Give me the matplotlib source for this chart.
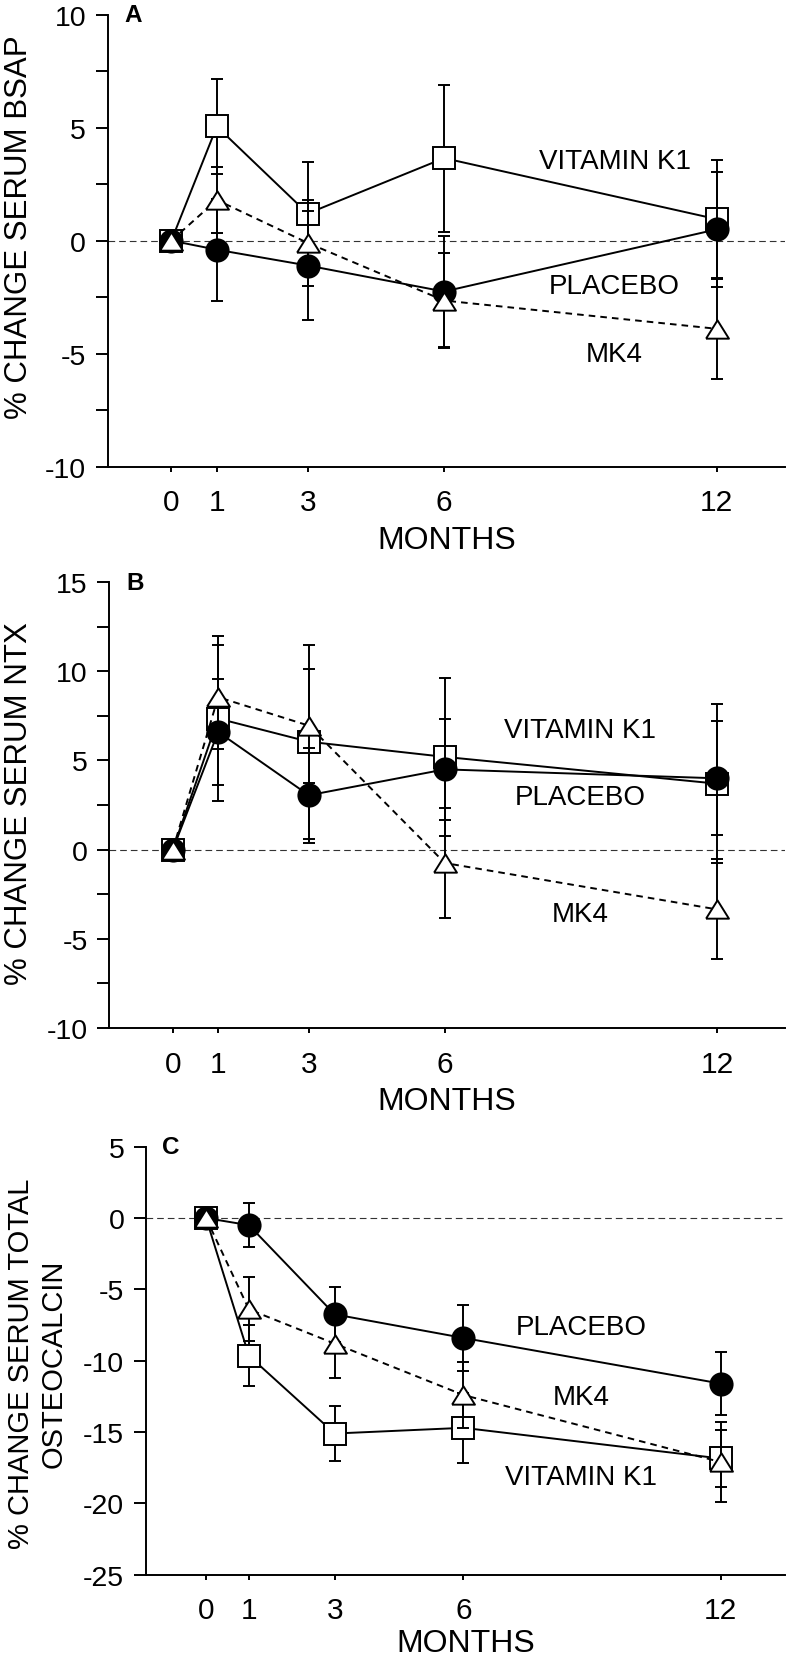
import matplotlib
matplotlib.use('Agg')
import matplotlib.pyplot as plt
import numpy as np

plt.rcParams['font.family'] = ['Liberation Sans', 'DejaVu Sans']

months = [0, 1, 3, 6, 12]
month_labels = ['0', '1', '3', '6', '12']

# A: serum BSAP, % change (mean and SE)
bsap_k1 = [0, 5.05, 1.2, 3.65, 0.95]
bsap_k1_se = [0, 2.1, 2.3, 3.25, 2.6]
bsap_placebo = [0, -0.4, -1.1, -2.25, 0.5]
bsap_placebo_se = [0, 2.25, 2.4, 2.45, 2.55]
bsap_mk4 = [0, 1.8, -0.1, -2.65, -3.9]
bsap_mk4_se = [0, 1.45, 1.9, 2.1, 2.2]

# B: serum NTX
ntx_k1 = [0, 7.35, 6.05, 5.2, 3.7]
ntx_k1_se = [0, 4.65, 5.45, 4.45, 4.45]
ntx_placebo = [0, 6.6, 3.05, 4.5, 4.0]
ntx_placebo_se = [0, 2.95, 2.65, 2.85, 3.2]
ntx_mk4 = [0, 8.55, 6.95, -0.75, -3.35]
ntx_mk4_se = [0, 2.9, 3.2, 3.1, 2.8]

# C: serum total osteocalcin
oc_k1 = [0, -9.65, -15.1, -14.7, -16.85]
oc_k1_se = [0, 2.15, 1.95, 2.45, 2.0]
oc_placebo = [0, -0.5, -6.75, -8.4, -11.6]
oc_placebo_se = [0, 1.55, 1.95, 2.3, 2.2]
oc_mk4 = [0, -6.4, -8.8, -12.4, -17.1]
oc_mk4_se = [0, 2.25, 2.4, 2.3, 2.8]

# flattened open triangle
tri = [(-1, -0.8), (1, -0.8), (0, 0.8), (-1, -0.8)]

LW = 1.4


def panel(ax, k1, k1_se, pl, pl_se, mk, mk_se, ylim, yticks, yminor,
          letter, label_pos, xlabelpad):
    common = dict(color='k', lw=LW, elinewidth=LW, capsize=4.6, capthick=LW,
                  mew=LW, mec='k', clip_on=False)
    ax.axhline(0, color='#333333', lw=0.8, ls=(0, (6.0, 3.6)), zorder=1)
    # vitamin K1 - open squares
    ax.errorbar(months, k1, yerr=k1_se, marker='s', ms=15.5, mfc='white',
                zorder=3, **common)
    # placebo - filled circles
    ax.errorbar(months, pl, yerr=pl_se, marker='o', ms=16, mfc='k',
                zorder=4, **common)
    # MK4 - open triangles, dashed
    ax.errorbar(months, mk, yerr=mk_se, marker=tri, ms=16.5, mfc='white',
                ls=(0, (3.4, 2.6)), zorder=5, **common)

    ax.set_xlim(-1.4, 13.5)
    ax.set_ylim(*ylim)
    ax.set_xticks(months)
    ax.set_xticklabels(month_labels)
    ax.set_yticks(yticks)
    ax.set_yticklabels([str(t) for t in yticks])
    if yminor:
        ax.set_yticks(yminor, minor=True)
    ax.tick_params(axis='y', which='both', direction='out', length=8.6,
                   width=LW, labelsize=20.5, pad=7)
    ax.tick_params(axis='x', direction='out', length=3.6, width=LW,
                   labelsize=21.5, pad=12)
    ax.spines['top'].set_visible(False)
    ax.spines['right'].set_visible(False)
    ax.spines['left'].set_linewidth(LW)
    ax.spines['bottom'].set_linewidth(LW)
    ax.set_xlabel('MONTHS', fontsize=23, labelpad=xlabelpad)
    ax.text(-1.03, ylim[1], letter, fontsize=17.5, fontweight='bold',
            ha='left', va='center')
    for txt, (x, y) in label_pos.items():
        ax.text(x, y, txt, fontsize=20, ha='center', va='center')


fig = plt.figure(figsize=(7.88, 16.58), dpi=100)
H = 1658.0
W = 788.0


def add_axes(left, right, top, bottom):
    return fig.add_axes([left / W, 1 - bottom / H, (right - left) / W,
                         (bottom - top) / H])


axA = add_axes(107.7, 785, 15.6, 467.7)
panel(axA, bsap_k1, bsap_k1_se, bsap_placebo, bsap_placebo_se,
      bsap_mk4, bsap_mk4_se, (-10, 10), [-10, -5, 0, 5, 10],
      [-7.5, -2.5, 2.5, 7.5], 'A',
      {'VITAMIN K1': (9.75, 3.54), 'PLACEBO': (9.75, -1.99),
       'MK4': (9.75, -5.01)}, 6)

axB = add_axes(109.3, 785, 583.1, 1029)
panel(axB, ntx_k1, ntx_k1_se, ntx_placebo, ntx_placebo_se,
      ntx_mk4, ntx_mk4_se, (-10, 15), [-10, -5, 0, 5, 10, 15],
      [-7.5, -2.5, 2.5, 7.5, 12.5], 'B',
      {'VITAMIN K1': (8.98, 6.71), 'PLACEBO': (8.98, 2.95),
       'MK4': (8.98, -3.6)}, 6)

axC = add_axes(146, 785, 1147.7, 1575.8)
panel(axC, oc_k1, oc_k1_se, oc_placebo, oc_placebo_se,
      oc_mk4, oc_mk4_se, (-25, 5), [-25, -20, -15, -10, -5, 0, 5],
      None, 'C',
      {'PLACEBO': (8.74, -7.64), 'MK4': (8.74, -12.52),
       'VITAMIN K1': (8.74, -18.13)}, 2.5)

fig.text(19 / W, 1 - 227.5 / H, '% CHANGE SERUM BSAP', rotation=90,
         ha='center', va='center', fontsize=22.5)
fig.text(19 / W, 1 - 803.5 / H, '% CHANGE SERUM NTX', rotation=90,
         ha='center', va='center', fontsize=22.5)
fig.text(37 / W, 1 - 1364 / H, '% CHANGE SERUM TOTAL\nOSTEOCALCIN',
         rotation=90, ha='center', va='center', fontsize=21,
         linespacing=1.2, multialignment='center')

fig.savefig('out.png', dpi=100)
